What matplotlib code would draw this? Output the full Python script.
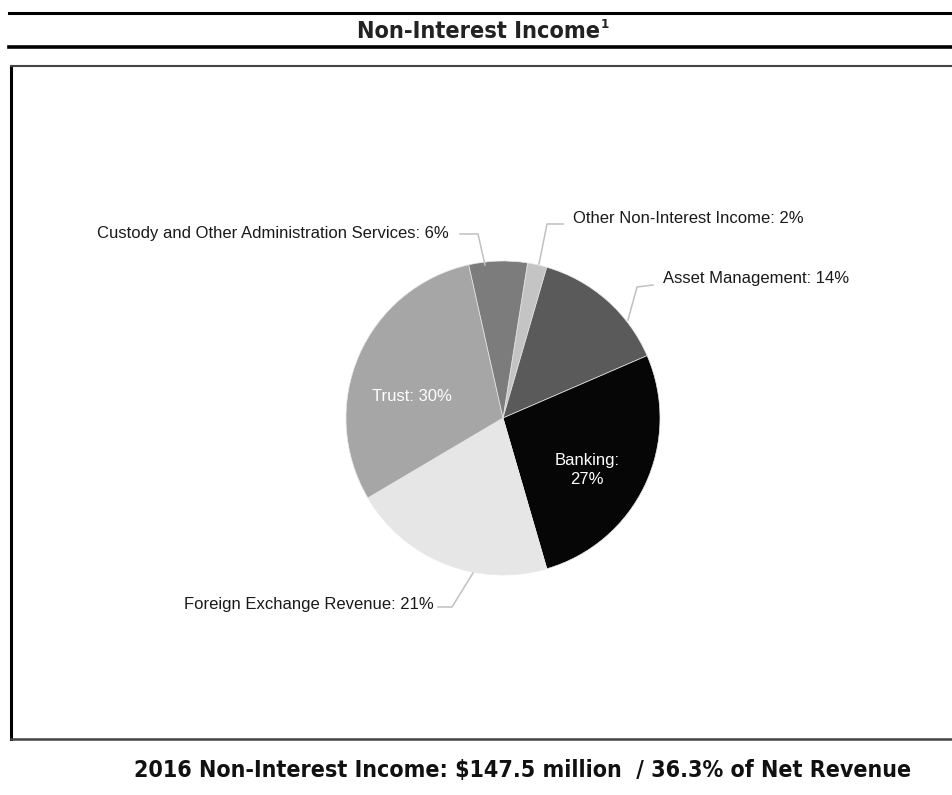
import matplotlib
matplotlib.use("Agg")
import matplotlib.pyplot as plt
from matplotlib.lines import Line2D

# ---- data ----
categories = ["Other Non-Interest Income", "Asset Management", "Banking",
              "Foreign Exchange Revenue", "Trust",
              "Custody and Other Administration Services"]
values = [2, 14, 27, 21, 30, 6]
colors = ["#c4c4c4", "#5a5a5a", "#060606", "#e6e6e6", "#a6a6a6", "#7c7c7c"]
title_text = "Non-Interest Income"
footer_text = "2016 Non-Interest Income: $147.5 million  / 36.3% of Net Revenue"

W, H = 952, 795
fig = plt.figure(figsize=(W / 100, H / 100), dpi=100)
fig.patch.set_facecolor("white")

cond_bold = dict(family=["DejaVu Sans"], fontstretch="condensed", weight="bold")
sans = ["Liberation Sans", "DejaVu Sans"]

def fx(px):
    return px / W

def fy(py):
    return 1 - py / H

# header lines
fig.add_artist(Line2D([fx(9), 1.0], [fy(13), fy(13)], color="black", lw=2.2))
fig.add_artist(Line2D([fx(9), 1.0], [fy(47), fy(47)], color="black", lw=2.6))
fig.text(fx(600), fy(31), title_text, ha="right", va="center",
         fontsize=16.8, color="#222222", **cond_bold)
fig.text(fx(601), fy(25), "1", ha="left", va="center",
         fontsize=9.5, color="#222222", **cond_bold)

# frame
fig.add_artist(Line2D([fx(11), fx(11)], [fy(66), fy(739)], color="black", lw=2.2))
fig.add_artist(Line2D([fx(11), 1.0], [fy(66), fy(66)], color="#444444", lw=1.5))
fig.add_artist(Line2D([fx(11), 1.0], [fy(739), fy(739)], color="#444444", lw=1.8))

# pie
cx, cy, r = 503, 418, 157
ax = fig.add_axes([fx(cx - r), fy(cy + r), 2 * r / W, 2 * r / H])
ax.axis("off")
wedges, _ = ax.pie(values, colors=colors, startangle=81, counterclock=False,
                   radius=1.0, center=(0, 0),
                   wedgeprops=dict(linewidth=0.5, edgecolor="#e8e8e8"))
ax.set_xlim(-1, 1)
ax.set_ylim(-1, 1)
ax.set_aspect("equal")

def P(px, py):
    return ((px - cx) / r, (cy - py) / r)

lbl = dict(fontsize=12, family=sans, color="#1a1a1a")
lc = "#c0c0c0"

def leader(pts):
    xs, ys = zip(*[P(*p) for p in pts])
    ax.plot(xs, ys, color=lc, lw=1.1, clip_on=False, solid_joinstyle="miter")

# Custody
leader([(460, 234), (478, 234), (485, 265)])
ax.text(*P(449, 234), f"{categories[5]}: {values[5]}%", ha="right", va="center", **lbl)
# Other
leader([(563, 224), (547, 224), (539, 264)])
ax.text(*P(573, 219), f"{categories[0]}: {values[0]}%", ha="left", va="center", **lbl)
# Asset Management
leader([(653, 285), (637, 287), (628, 320)])
ax.text(*P(663, 279), f"{categories[1]}: {values[1]}%", ha="left", va="center", **lbl)
# Foreign Exchange
leader([(438, 607), (452, 607), (473, 573)])
ax.text(*P(434, 604), f"{categories[3]}: {values[3]}%", ha="right", va="center", **lbl)
# inside labels
ax.text(*P(412, 397), f"{categories[4]}: {values[4]}%", ha="center", va="center",
        fontsize=12, family=sans, color="white")
ax.text(*P(587, 470), f"{categories[2]}:\n{values[2]}%", ha="center", va="center",
        fontsize=12, family=sans, color="white", linespacing=1.4)

# footer
fig.text(fx(523), fy(771), footer_text, ha="center", va="center",
         fontsize=16.7, color="#111111", **cond_bold)

fig.savefig("out.png", dpi=100, facecolor="white")
